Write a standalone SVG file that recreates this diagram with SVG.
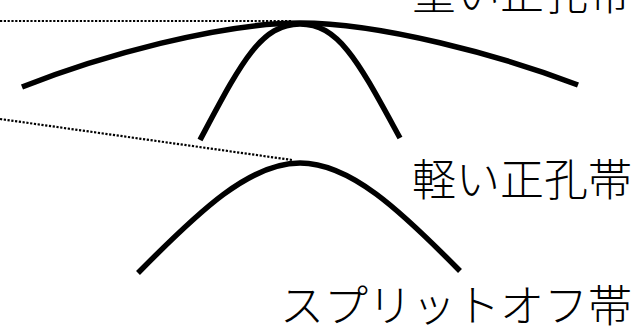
<svg xmlns="http://www.w3.org/2000/svg" width="635" height="332" viewBox="0 0 635 332">
<style>
.band{fill:none;stroke:#000;stroke-width:5.5;stroke-linecap:butt}
.dot{fill:none;stroke:#000;stroke-width:2.2;stroke-dasharray:2.2 1.6}
.lbl{font-family:"Noto Sans CJK JP","Noto Sans",sans-serif;font-size:44px;font-weight:300;fill:#000;text-anchor:end}
</style>
<rect width="635" height="332" fill="#fff"/>
<g id="connectors">
<line class="dot" x1="0" y1="21" x2="292" y2="21"/>
<line class="dot" x1="0" y1="119" x2="292" y2="160"/>
</g>
<g id="heavy-hole">
<path class="band" d="M22,87 C100,56 220,23 300,23 C380,23 500,55 578,85"/>
<text class="lbl" x="632" y="10">重い正孔帯</text>
</g>
<g id="light-hole">
<path class="band" d="M200,140 C240,65 260,24 300,24 C340,24 360,65 400,138"/>
<text class="lbl" x="632" y="196">軽い正孔帯</text>
</g>
<g id="split-off">
<path class="band" d="M138,273 C200,210 250,163 300,163 C350,163 400,210 460,271"/>
<text class="lbl" x="632" y="322">スプリットオフ帯</text>
</g>
</svg>
